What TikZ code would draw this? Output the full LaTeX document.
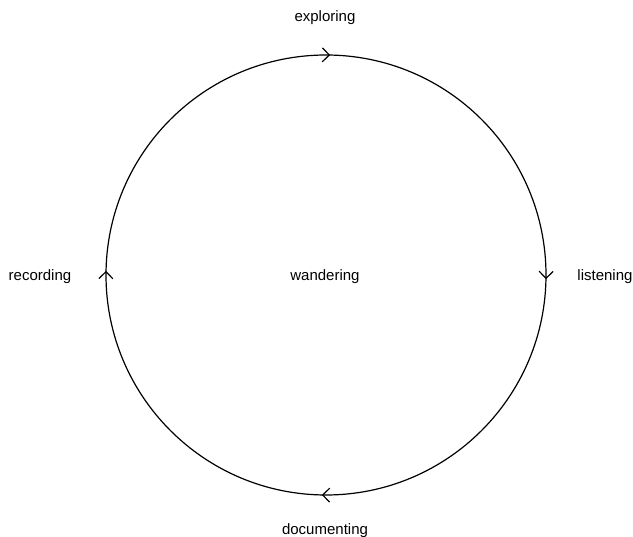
\documentclass[tikz,border=0pt]{standalone}
\usepackage{fontspec}
\setmainfont{Liberation Sans}
\usetikzlibrary{arrows.meta,decorations.markings}
\begin{document}
\begin{tikzpicture}[x=1pt,y=-1pt,
  >={Straight Barb[length=7pt,width=14pt,line width=1.2pt]},
  lbl/.style={font=\fontsize{15}{17}\selectfont, inner sep=0pt},
  ring/.style={line width=1.2pt,
    postaction={decorate},
    decoration={markings,
      mark=at position 0.003 with {\arrow{>}},
      mark=at position 0.253 with {\arrow{>}},
      mark=at position 0.503 with {\arrow{>}},
      mark=at position 0.753 with {\arrow{>}}}}]
\useasboundingbox (0,0) rectangle (633,537);
\coordinate (c) at (326,275);
\coordinate (start) at (106,275);
\draw[ring] (start) arc[start angle=180, end angle=540, radius=220];
\node[lbl] (wandering) at (325,277) {wandering};
\node[lbl] (exploring) at (325,18) {exploring};
\node[lbl] (listening) at (605,277) {listening};
\node[lbl] (documenting) at (325,531) {documenting};
\node[lbl] (recording) at (40,277) {recording};
\end{tikzpicture}
\end{document}
